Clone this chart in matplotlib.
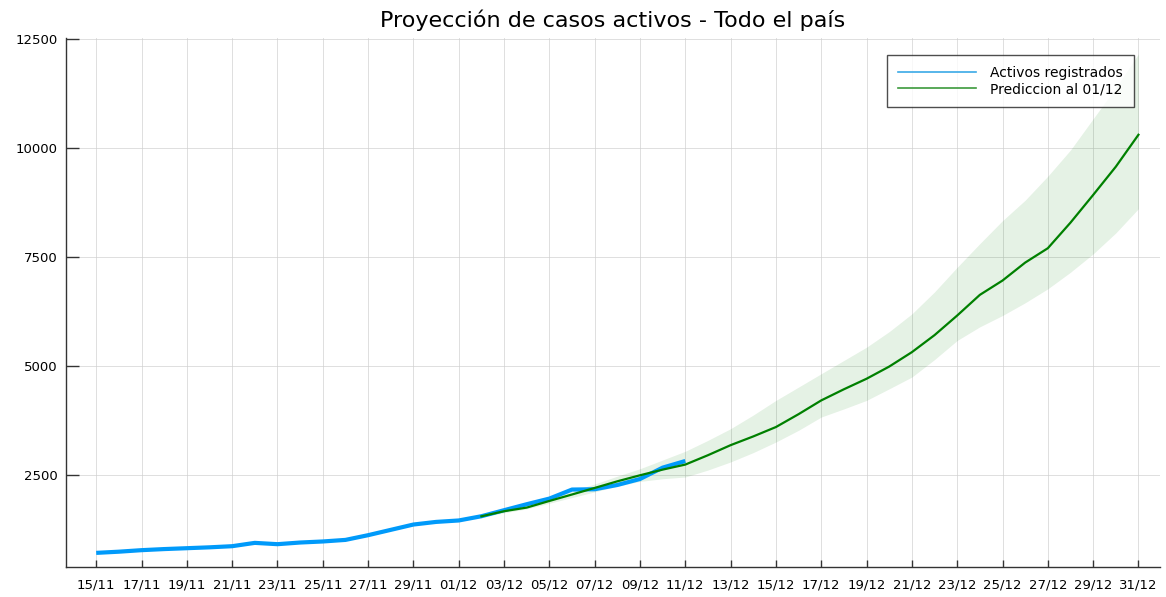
import numpy as np
import matplotlib

matplotlib.use("Agg")
import matplotlib.pyplot as plt
import matplotlib.dates as mdates
from matplotlib.lines import Line2D


# ----------------------------------------------------------------------
# Daten
# ----------------------------------------------------------------------

# Activos registrados, 15/11 .. 11/12
fechas_reg = np.arange("2020-11-15", "2020-12-12", dtype="datetime64[D]")
activos = [723, 750, 785, 810, 830, 850, 876, 952, 922, 960, 984, 1020,
           1128, 1250, 1372, 1432, 1465, 1562, 1700, 1837, 1966, 2173,
           2180, 2278, 2415, 2675, 2827]

# Prediccion al 01/12, 02/12 .. 31/12
fechas_pred = np.arange("2020-12-02", "2021-01-01", dtype="datetime64[D]")
prediccion = [1560, 1677, 1760, 1912, 2060, 2210, 2362, 2500, 2630, 2745,
              2960, 3190, 3390, 3605, 3900, 4215, 4470, 4711, 4990, 5320,
              5710, 6159, 6632, 6960, 7371, 7700, 8286, 8920, 9567, 10299]
pred_inf = [1540, 1640, 1730, 1860, 1990, 2120, 2250, 2360, 2420, 2460,
            2620, 2805, 3020, 3262, 3530, 3834, 4020, 4215, 4480, 4749,
            5150, 5587, 5900, 6159, 6450, 6770, 7150, 7570, 8050, 8606]
pred_sup = [1580, 1710, 1800, 1970, 2140, 2300, 2480, 2650, 2850, 3050,
            3300, 3567, 3880, 4215, 4520, 4826, 5130, 5434, 5790, 6197,
            6700, 7264, 7806, 8332, 8800, 9350, 9950, 10665, 11373, 12150]

y_ticks = [2500, 5000, 7500, 10000, 12500]

# ----------------------------------------------------------------------
# Plot
# ----------------------------------------------------------------------

color_reg = "#009AFA"
color_pred = "#008000"

fig = plt.figure(figsize=(11.66, 5.97), dpi=100)
ax = fig.add_axes([0.0566, 0.050, 0.9384, 0.886])

ax.fill_between(fechas_pred, pred_inf, pred_sup, color=color_pred,
                alpha=0.1, linewidth=0)
ax.plot(fechas_reg, activos, color=color_reg, linewidth=3.0,
        solid_capstyle="butt", zorder=3)
ax.plot(fechas_pred, prediccion, color=color_pred, linewidth=1.6, zorder=4)

ax.set_xlim(np.datetime64("2020-11-15") - np.timedelta64(32, "h"),
            np.datetime64("2020-12-31") + np.timedelta64(23, "h"))
ax.set_ylim(396, 12510)

ticks_x = np.arange("2020-11-15", "2021-01-01", 2, dtype="datetime64[D]")
ax.set_xticks(ticks_x)
ax.xaxis.set_major_formatter(mdates.DateFormatter("%d/%m"))
ax.set_yticks(y_ticks)
ax.set_yticklabels([str(v) for v in y_ticks])

ax.tick_params(axis="x", direction="in", length=5, width=1,
               labelsize=9.5, pad=8, color="#333333")
ax.tick_params(axis="y", direction="in", length=9.5, width=1,
               labelsize=9.5, pad=6, color="#333333")

for s in ["top", "right"]:
    ax.spines[s].set_visible(False)
for s in ["left", "bottom"]:
    ax.spines[s].set_color("#333333")
    ax.spines[s].set_linewidth(1.0)

ax.grid(True, color="#d0d0d0", linewidth=0.6, alpha=0.8)
ax.set_axisbelow(True)

ax.set_title("Proyección de casos activos - Todo el país", fontsize=16,
             pad=8)

handles = [Line2D([], [], color="#3aa9e6", linewidth=1.2),
           Line2D([], [], color="#3c9a3c", linewidth=1.2)]
leg = ax.legend(handles, ["Activos registrados", "Prediccion al 01/12"],
                loc="upper right", bbox_to_anchor=(0.976, 0.968),
                fontsize=10, frameon=True, fancybox=False,
                handlelength=5.6, handletextpad=1.0,
                borderpad=0.8, labelspacing=0.15, borderaxespad=0)
leg.get_frame().set_edgecolor("#222222")
leg.get_frame().set_linewidth(1.0)

fig.savefig("out.png", dpi=100)
plt.close(fig)
